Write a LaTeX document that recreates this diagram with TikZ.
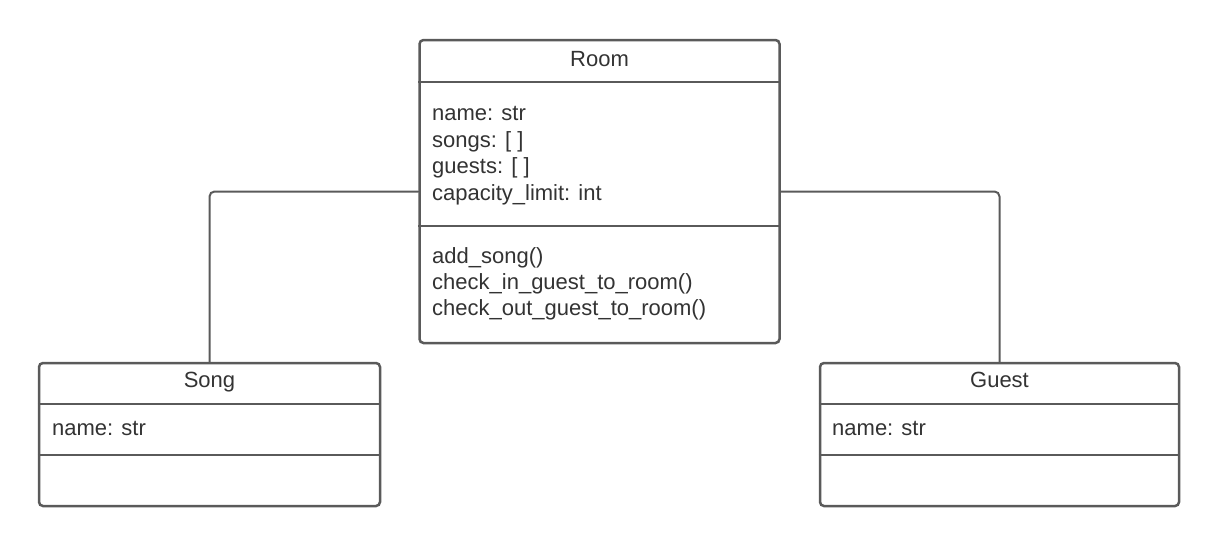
\documentclass[tikz,border=0pt]{standalone}
\usepackage{fontspec}
\setmainfont{Liberation Sans}
\definecolor{umlline}{HTML}{5A5A5A}
\definecolor{umltext}{HTML}{333333}
\begin{document}
\begin{tikzpicture}[x=1pt,y=-1pt,line cap=round,font={\fontsize{22}{26}\selectfont},
    classbox/.style={draw=umlline, line width=2.5pt, fill=white, rounded corners=4pt, inner sep=0pt},
    divider/.style={draw=umlline, line width=2.5pt, line cap=butt},
    member/.style={anchor=base west, inner sep=0pt, text=umltext},
    title/.style={anchor=base, inner sep=0pt, text=umltext},
    link/.style={draw=umlline, line width=2pt, rounded corners=5pt}]
    \useasboundingbox (0,0) rectangle (1220,547);

    % classes
    \node[classbox, minimum width=360pt, minimum height=303pt] (room) at (599.5,191.5) {};
    \node[classbox, minimum width=341pt, minimum height=143pt] (song) at (209.5,434.5) {};
    \node[classbox, minimum width=359pt, minimum height=143pt] (guest) at (999.5,434.5) {};

    \draw[divider] (room.west |- 0,82) -- (room.east |- 0,82);
    \draw[divider] (room.west |- 0,226) -- (room.east |- 0,226);
    \draw[divider] (song.west |- 0,404) -- (song.east |- 0,404);
    \draw[divider] (song.west |- 0,455) -- (song.east |- 0,455);
    \draw[divider] (guest.west |- 0,404) -- (guest.east |- 0,404);
    \draw[divider] (guest.west |- 0,455) -- (guest.east |- 0,455);

    % Room
    \node[title] (roomname) at (room.north |- 0,66) {Room};
    \node[member] (roomattr1) at (432,120) {name: str};
    \node[member] (roomattr2) at (432,147) {songs: [ ]};
    \node[member] (roomattr3) at (432,173.5) {guests: [ ]};
    \node[member] (roomattr4) at (432,200) {capacity\_limit: int};
    \node[member] (roommeth1) at (432,263) {add\_song()};
    \node[member] (roommeth2) at (432,289) {check\_in\_guest\_to\_room()};
    \node[member] (roommeth3) at (432,315) {check\_out\_guest\_to\_room()};

    % Song
    \node[title] (songname) at (song.north |- 0,387) {Song};
    \node[member] (songattr1) at (52,435) {name: str};

    % Guest
    \node[title] (guestname) at (guest.north |- 0,387) {Guest};
    \node[member] (guestattr1) at (832,435) {name: str};

    % associations
    \draw[link] (room.west) -| (song.north);
    \draw[link] (room.east) -| (guest.north);
\end{tikzpicture}
\end{document}
